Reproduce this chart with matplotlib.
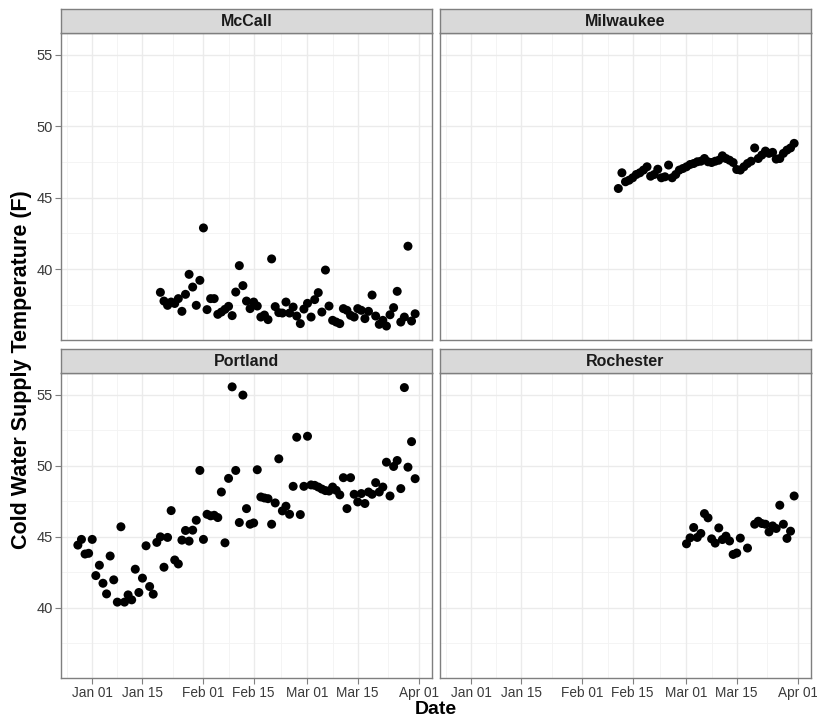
import numpy as np
import matplotlib
matplotlib.use("Agg")
import matplotlib.pyplot as plt
import matplotlib.dates as mdates

plt.rcParams['font.family'] = ['Liberation Sans', 'DejaVu Sans']

# ---------------- data (days since 2016-01-01) ----------------
base_date = np.datetime64('2016-01-01')

mccall_days = [19, 20, 21, 22, 23, 24, 25, 26, 27, 28, 29, 30, 31, 32, 33, 34, 35, 36,
               37, 38, 39, 40, 41, 42, 43, 44, 45, 46, 47, 48, 49, 50, 51, 52, 53, 54,
               55, 56, 57, 58, 59, 60, 61, 62, 63, 64, 65, 66, 67, 68, 69, 70, 71, 72,
               73, 74, 75, 76, 77, 78, 79, 80, 81, 82, 83, 84, 85, 86, 87, 88, 89, 90]
mccall_temp = [38.38, 37.77, 37.47, 37.70, 37.60, 37.94, 37.05, 38.24, 39.64, 38.75,
               37.47, 39.22, 42.89, 37.17, 37.94, 37.94, 36.84, 37.00, 37.19, 37.40,
               36.75, 38.40, 40.25, 38.85, 37.77, 37.24, 37.70, 37.42, 36.65, 36.79,
               36.47, 40.72, 37.38, 36.96, 36.93, 37.70, 36.93, 37.35, 36.72, 36.19,
               37.21, 37.61, 36.65, 37.87, 38.36, 37.00, 39.94, 37.42, 36.42, 36.30,
               36.19, 37.24, 37.12, 36.77, 36.65, 37.24, 37.12, 36.54, 37.05, 38.19,
               36.72, 36.14, 36.42, 36.02, 36.81, 37.31, 38.45, 36.30, 36.65, 41.61,
               36.37, 36.88]

milwaukee_days = [41, 42, 43, 44, 45, 46, 47, 48, 49, 50, 51, 52, 53, 54, 55, 56, 57,
                  58, 59, 60, 61, 62, 63, 64, 65, 66, 67, 68, 69, 70, 71, 72, 73, 74,
                  75, 76, 77, 78, 79, 80, 81, 82, 83, 84, 85, 86, 87, 88, 89, 90]
milwaukee_temp = [45.65, 46.75, 46.12, 46.23, 46.40, 46.63, 46.75, 46.94, 47.17, 46.51,
                  46.63, 47.00, 46.40, 46.47, 47.29, 46.40, 46.63, 46.94, 47.05, 47.17,
                  47.33, 47.40, 47.52, 47.56, 47.75, 47.52, 47.47, 47.56, 47.63, 47.94,
                  47.75, 47.63, 47.47, 46.98, 46.94, 47.17, 47.40, 47.56, 48.49, 47.75,
                  47.99, 48.27, 48.11, 48.18, 47.71, 47.75, 48.11, 48.34, 48.49, 48.81]

portland_days = [-4, -3, -2, -1, 0, 1, 2, 3, 4, 5, 6, 7, 8, 9, 10, 11, 12, 13, 14, 15,
                 16, 17, 18, 19, 20, 21, 22, 23, 24, 25, 26, 27, 28, 29, 30, 31, 32, 33,
                 34, 35, 36, 37, 38, 39, 40, 41, 42, 43, 44, 45, 46, 47, 48, 49, 50, 51,
                 52, 53, 54, 55, 56, 57, 58, 59, 60, 61, 62, 63, 64, 65, 66, 67, 68, 69,
                 70, 71, 72, 73, 74, 75, 76, 77, 78, 79, 80, 81, 82, 83, 84, 85, 86, 87,
                 88, 89, 90]
portland_temp = [44.41, 44.81, 43.78, 43.83, 44.81, 42.26, 42.99, 41.72, 40.97, 43.64,
                 41.96, 40.39, 45.70, 40.39, 40.90, 40.55, 42.71, 41.07, 42.08, 44.36,
                 41.49, 40.95, 44.60, 44.99, 42.85, 44.95, 46.84, 43.36, 43.08, 44.76,
                 45.44, 44.69, 45.46, 46.16, 49.67, 44.81, 46.58, 46.47, 46.51, 46.35,
                 48.15, 44.57, 49.11, 55.56, 49.67, 46.00, 54.98, 46.98, 45.88, 45.97,
                 49.72, 47.80, 47.73, 47.68, 45.88, 47.38, 50.49, 46.82, 47.15, 46.58,
                 48.55, 52.01, 46.56, 48.55, 52.08, 48.65, 48.62, 48.50, 48.36, 48.25,
                 48.22, 48.50, 48.27, 47.95, 49.16, 46.98, 49.16, 47.99, 47.45, 48.04,
                 47.34, 48.15, 47.99, 48.81, 48.15, 48.50, 50.25, 47.87, 49.95, 50.37,
                 48.39, 55.51, 49.90, 51.70, 49.09]

rochester_days = [60, 61, 62, 63, 64, 65, 66, 67, 68, 69, 70, 71, 72, 73, 74, 75, 77,
                  79, 80, 81, 82, 83, 84, 85, 86, 87, 88, 89, 90]
rochester_temp = [44.50, 44.92, 45.65, 44.95, 45.23, 46.63, 46.33, 44.85, 44.55, 45.62,
                  44.80, 45.04, 44.70, 43.75, 43.85, 44.90, 44.20, 45.88, 46.09, 45.93,
                  45.88, 45.34, 45.76, 45.58, 47.22, 45.88, 44.88, 45.39, 47.87]

facet_names = ["McCall", "Milwaukee", "Portland", "Rochester"]
facet_days = [mccall_days, milwaukee_days, portland_days, rochester_days]
facet_temp = [mccall_temp, milwaukee_temp, portland_temp, rochester_temp]

y_ticks = [40, 45, 50, 55]
x_tick_labels = ["2016-01-01", "2016-01-15", "2016-02-01", "2016-02-15",
                 "2016-03-01", "2016-03-15", "2016-04-01"]

# ---------------- layout ----------------
W, H = 817, 719
fig = plt.figure(figsize=(W / 100, H / 100), dpi=100)
fig.patch.set_facecolor('white')


def rect(x0, y0, x1, y1):
    return [x0 / W, 1 - y1 / H, (x1 - x0) / W, (y1 - y0) / H]


cols = [(61, 432), (440, 811)]
rows = [(33, 340), (373, 678)]
strips = [(9, 33), (349, 373)]

border_col = '#7F7F7F'
text_col = '#3A3A3A'

# shared scales (ggplot-like 5% expansion)
all_dates = [mdates.date2num(base_date + np.timedelta64(d, 'D'))
             for days in facet_days for d in days]
all_vals = [v for vals in facet_temp for v in vals]
xmin, xmax = min(all_dates), max(all_dates)
ymin, ymax = min(all_vals), max(all_vals)
xpad = (xmax - xmin) * 0.05
ypad = (ymax - ymin) * 0.05
xlim = (xmin - xpad, xmax + xpad)
ylim = (ymin - ypad, ymax + ypad)

x_major = [mdates.date2num(np.datetime64(s)) for s in x_tick_labels]
x_minor = [(a + b) / 2 for a, b in zip(x_major[:-1], x_major[1:])]
x_minor = [x_major[0] - (x_major[1] - x_major[0]) / 2] + x_minor
y_minor = [(a + b) / 2 for a, b in zip(y_ticks[:-1], y_ticks[1:])]
y_minor = [y_ticks[0] - 2.5] + y_minor

for i, name in enumerate(facet_names):
    r, c = divmod(i, 2)
    x0, x1 = cols[c]
    y0, y1 = rows[r]
    ax = fig.add_axes(rect(x0, y0, x1, y1))
    dates = [base_date + np.timedelta64(d, 'D') for d in facet_days[i]]
    ax.set_axisbelow(True)
    for xm in x_minor:
        ax.axvline(xm, color='#F3F3F3', lw=0.6, zorder=0)
    for ym in y_minor:
        ax.axhline(ym, color='#F3F3F3', lw=0.6, zorder=0)
    for xm in x_major:
        ax.axvline(xm, color='#EBEBEB', lw=1.0, zorder=0)
    for ym in y_ticks:
        ax.axhline(ym, color='#EBEBEB', lw=1.0, zorder=0)
    ax.scatter(dates, facet_temp[i], s=42, color='black', edgecolors='none', zorder=3)
    ax.set_xlim(xlim)
    ax.set_ylim(ylim)
    for sp in ax.spines.values():
        sp.set_color(border_col)
        sp.set_linewidth(1.0)
    ax.set_xticks(x_major)
    ax.set_yticks(y_ticks)
    ax.tick_params(axis='both', length=4, width=0.8, color=border_col,
                   labelcolor=text_col, labelsize=10.5, pad=2)
    ax.tick_params(axis='x', labelsize=9.8)
    if r == 1:
        ax.xaxis.set_major_formatter(mdates.DateFormatter('%b %d'))
    else:
        ax.tick_params(axis='x', length=0, labelbottom=False)
    if c == 1:
        ax.tick_params(axis='y', length=0, labelleft=False)

    # strip
    sy0, sy1 = strips[r]
    sax = fig.add_axes(rect(x0, sy0, x1, sy1))
    sax.set_facecolor('#D9D9D9')
    sax.set_xticks([])
    sax.set_yticks([])
    for sp in sax.spines.values():
        sp.set_color(border_col)
        sp.set_linewidth(1.0)
    sax.text(0.5, 0.5, name, ha='center', va='center', fontsize=11.5,
             fontweight='bold', color='#1A1A1A', transform=sax.transAxes)

fig.text(436 / W, 1 - 709 / H, 'Date', ha='center', va='center',
         fontsize=14, fontweight='bold', color='black')
fig.text(22 / W, 1 - 370 / H, 'Cold Water Supply Temperature (F)', ha='center',
         va='center', rotation=90, fontsize=15.5, fontweight='bold', color='black')

fig.savefig('out.png', dpi=100)
